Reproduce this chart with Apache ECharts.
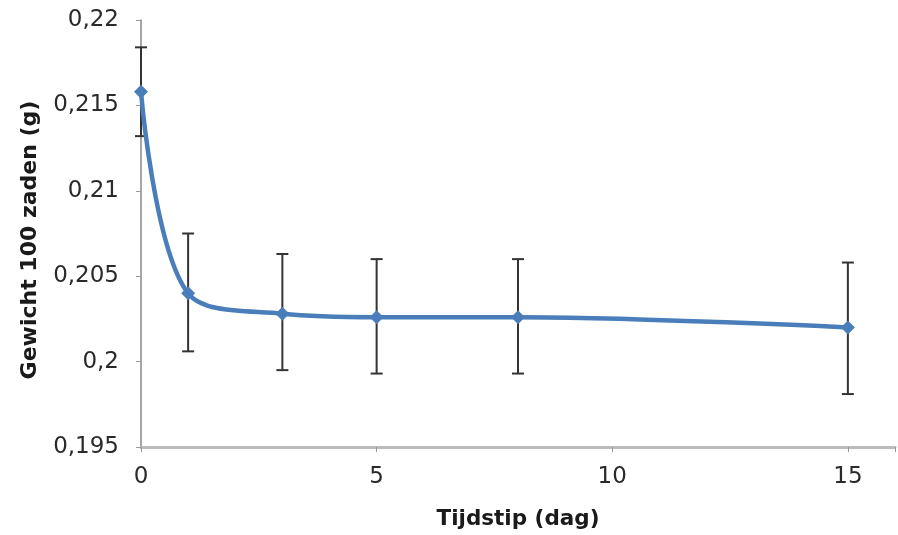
<!DOCTYPE html>
<html>
<head>
<meta charset="utf-8">
<script src="https://cdn.jsdelivr.net/npm/echarts@6/dist/echarts.min.js"></script>
<style>html,body{margin:0;padding:0;background:#fff}#c{width:898px;height:535px}</style>
</head>
<body>
<div id="c"></div>
<script>
const days = [0, 1, 3, 5, 8, 15];
const weights = [0.2158, 0.2040, 0.2028, 0.2026, 0.2026, 0.2020];
const errHigh = [0.2184, 0.2075, 0.2063, 0.2060, 0.2060, 0.2058];
const errLow = [0.2132, 0.2006, 0.1995, 0.1993, 0.1993, 0.1981];
const xTicks = [0, 5, 10, 15];

const chart = echarts.init(document.getElementById('c'));
const fmtY = v => {
  let s = (Math.round(v * 1000) / 1000).toFixed(3).replace(/0+$/, '').replace(/\.$/, '');
  return s.replace('.', ',');
};
chart.setOption({
  animation: false,
  grid: {left: 141, right: 0, top: 20, bottom: 88, containLabel: false},
  xAxis: {
    type: 'value', min: 0, max: 16, interval: 5,
    name: 'Tijdstip (dag)', nameLocation: 'middle', nameGap: 61,
    nameTextStyle: {fontFamily: 'DejaVu Sans', fontWeight: 'bold', fontSize: 21.5, color: '#1a1a1a'},
    axisLine: {show: true, lineStyle: {color: '#bcbcbc', width: 3}},
    axisTick: {show: true, length: 5, lineStyle: {color: '#999'}},
    axisLabel: {fontFamily: 'DejaVu Sans', fontSize: 23, color: '#2a2a2a', margin: 19,
      formatter: v => xTicks.includes(v) ? String(v) : ''},
    splitLine: {show: false}
  },
  yAxis: {
    type: 'value', min: 0.195, max: 0.22, interval: 0.005,
    name: 'Gewicht 100 zaden (g)', nameLocation: 'middle', nameGap: 100,
    nameTextStyle: {fontFamily: 'DejaVu Sans', fontWeight: 'bold', fontSize: 22, color: '#1a1a1a', padding: [0, 13, 0, 0]},
    axisLine: {show: true, lineStyle: {color: '#888', width: 1.5}},
    axisTick: {show: true, length: 5, lineStyle: {color: '#999'}},
    axisLabel: {fontFamily: 'DejaVu Sans', fontSize: 23, color: '#2a2a2a', margin: 22, formatter: fmtY},
    splitLine: {show: false}
  },
  series: [
    {
      type: 'custom', z: 1,
      data: days.map((d, i) => [d, errLow[i], errHigh[i]]),
      renderItem: (params, api) => {
        const lo = api.coord([api.value(0), api.value(1)]);
        const hi = api.coord([api.value(0), api.value(2)]);
        const w = 6;
        const st = {stroke: '#333', lineWidth: 2};
        return {type: 'group', children: [
          {type: 'line', shape: {x1: hi[0], y1: hi[1], x2: lo[0], y2: lo[1]}, style: st},
          {type: 'line', shape: {x1: hi[0] - w, y1: hi[1], x2: hi[0] + w, y2: hi[1]}, style: st},
          {type: 'line', shape: {x1: lo[0] - w, y1: lo[1], x2: lo[0] + w, y2: lo[1]}, style: st}
        ]};
      }
    },
    {
      type: 'line', z: 3,
      data: days.map((d, i) => [d, weights[i]]),
      smooth: 0.35,
      symbol: 'diamond', symbolSize: 14,
      lineStyle: {color: '#4A7EBB', width: 4.5},
      itemStyle: {color: '#4A7EBB'}
    }
  ]
});
</script>
</body>
</html>
